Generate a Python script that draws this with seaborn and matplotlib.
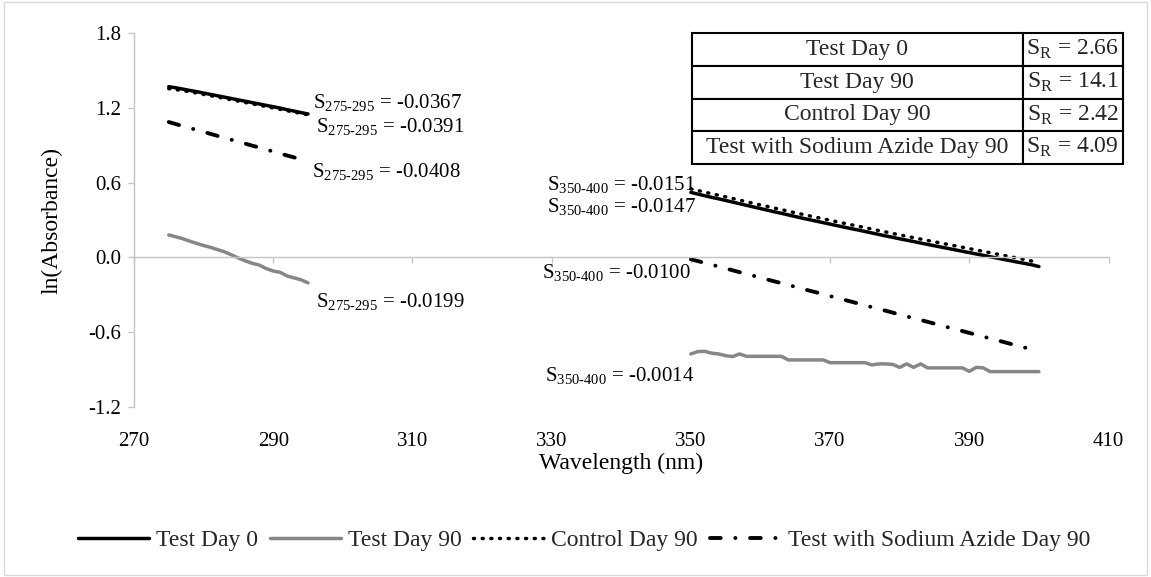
import matplotlib
matplotlib.use("Agg")
import matplotlib.pyplot as plt
from matplotlib.patches import Rectangle
import pandas as pd
import seaborn as sns

# wavelengths (nm) of the two fitted ranges
wl_uv = list(range(275, 296))
wl_vis = list(range(350, 401))

# ln(absorbance)
test_day0_uv = [1.371, 1.362, 1.352, 1.341, 1.331, 1.320, 1.309, 1.298, 1.287, 1.276,
                1.265, 1.254, 1.243, 1.232, 1.221, 1.210, 1.199, 1.186, 1.175, 1.163, 1.152]
test_day90_uv = [0.180, 0.165, 0.150, 0.130, 0.112, 0.095, 0.080, 0.062, 0.045, 0.020,
                 -0.005, -0.028, -0.048, -0.062, -0.090, -0.110, -0.120, -0.150, -0.165, -0.180, -0.205]
control_uv = [1.355, 1.348, 1.339, 1.330, 1.320, 1.309, 1.299, 1.288, 1.277, 1.266,
              1.255, 1.244, 1.233, 1.222, 1.211, 1.200, 1.189, 1.178, 1.167, 1.156, 1.145]
azide_uv = [1.087, 1.071, 1.055, 1.039, 1.024, 1.008, 0.992, 0.976, 0.960, 0.945,
            0.929, 0.913, 0.897, 0.882, 0.866, 0.850, 0.834, 0.818, 0.803, 0.787, 0.771]

test_day0_vis = [0.522, 0.508, 0.495, 0.482, 0.470, 0.457, 0.444, 0.431, 0.418, 0.405,
                 0.392, 0.379, 0.366, 0.354, 0.341, 0.328, 0.315, 0.303, 0.291, 0.279,
                 0.267, 0.255, 0.243, 0.231, 0.220, 0.208, 0.196, 0.184, 0.172, 0.161,
                 0.149, 0.138, 0.127, 0.115, 0.104, 0.093, 0.082, 0.071, 0.060, 0.049,
                 0.038, 0.027, 0.016, 0.005, -0.006, -0.017, -0.028, -0.039, -0.049, -0.060,
                 -0.074]
test_day90_vis = [-0.776, -0.757, -0.755, -0.770, -0.776, -0.790, -0.797, -0.776, -0.795, -0.795,
                  -0.795, -0.795, -0.795, -0.795, -0.824, -0.824, -0.824, -0.824, -0.824, -0.824,
                  -0.846, -0.846, -0.846, -0.846, -0.846, -0.846, -0.864, -0.856, -0.856, -0.860,
                  -0.884, -0.856, -0.884, -0.856, -0.888, -0.888, -0.888, -0.888, -0.888, -0.888,
                  -0.916, -0.884, -0.888, -0.918, -0.918, -0.918, -0.918, -0.918, -0.918, -0.918,
                  -0.918]
control_vis = [0.550, 0.537, 0.524, 0.511, 0.499, 0.486, 0.473, 0.460, 0.447, 0.434,
               0.421, 0.409, 0.396, 0.384, 0.371, 0.358, 0.346, 0.334, 0.322, 0.310,
               0.298, 0.286, 0.274, 0.262, 0.251, 0.239, 0.227, 0.215, 0.204, 0.192,
               0.181, 0.169, 0.158, 0.147, 0.136, 0.125, 0.114, 0.103, 0.092, 0.081,
               0.070, 0.059, 0.048, 0.037, 0.026, 0.015, 0.004, -0.007, -0.018, -0.030,
               -0.045]
azide_vis = [-0.015, -0.030, -0.045, -0.059, -0.074, -0.089, -0.104, -0.119, -0.133, -0.148,
             -0.163, -0.178, -0.193, -0.207, -0.222, -0.237, -0.252, -0.267, -0.281, -0.296,
             -0.311, -0.326, -0.341, -0.355, -0.370, -0.385, -0.400, -0.415, -0.429, -0.444,
             -0.459, -0.474, -0.489, -0.503, -0.518, -0.533, -0.548, -0.563, -0.577, -0.592,
             -0.607, -0.622, -0.637, -0.651, -0.666, -0.681, -0.696, -0.711, -0.725, -0.740,
             -0.755]

series_names = ["Test Day 0", "Test Day 90", "Control Day 90", "Test with Sodium Azide Day 90"]
sr_values = ["2.66", "14.1", "2.42", "4.09"]

# slope labels: (wavelength, ln abs, range, slope)
slope_labels = [
    (295.7, 1.235, "275-295", "-0.0367"),
    (296.1, 1.044, "275-295", "-0.0391"),
    (295.6, 0.683, "275-295", "-0.0408"),
    (296.1, -0.362, "275-295", "-0.0199"),
    (329.4, 0.576, "350-400", "-0.0151"),
    (329.4, 0.402, "350-400", "-0.0147"),
    (328.6, -0.131, "350-400", "-0.0100"),
    (329.1, -0.958, "350-400", "-0.0014"),
]

series_data = {
    "Test Day 0": [test_day0_uv, test_day0_vis],
    "Test Day 90": [test_day90_uv, test_day90_vis],
    "Control Day 90": [control_uv, control_vis],
    "Test with Sodium Azide Day 90": [azide_uv, azide_vis],
}

rows = []
for name, (uv, vis) in series_data.items():
    for w, v in zip(wl_uv, uv):
        rows.append((w, v, name, 0))
    for w, v in zip(wl_vis, vis):
        rows.append((w, v, name, 1))
df = pd.DataFrame(rows, columns=["wavelength", "ln_abs", "series", "segment"])

sns.set_theme(style="white")
plt.rcParams["font.family"] = ["Liberation Serif", "DejaVu Serif"]
plt.rcParams["mathtext.fontset"] = "custom"
plt.rcParams["mathtext.rm"] = "Liberation Serif"
plt.rcParams["axes.unicode_minus"] = False

palette = {"Test Day 0": "black", "Test Day 90": "#878787",
           "Control Day 90": "black", "Test with Sodium Azide Day 90": "black"}
dashes = {"Test Day 0": "", "Test Day 90": "",
          "Control Day 90": (0.3, 2.2), "Test with Sodium Azide Day 90": (2.75, 3.75, 0.05, 3.75)}
sizes = {"Test Day 0": 2.5, "Test Day 90": 2.5,
         "Control Day 90": 2.5, "Test with Sodium Azide Day 90": 2.8}

fig = plt.figure(figsize=(11.51, 5.77), dpi=100)
ax = fig.add_axes([0.1164, 0.2951, 0.8467, 0.6472])

sns.lineplot(data=df, x="wavelength", y="ln_abs", hue="series", style="series", size="series",
             units="segment", estimator=None, sort=False,
             palette=palette, dashes=dashes, sizes=sizes,
             hue_order=series_names, style_order=series_names, size_order=series_names, ax=ax)

ax.set_xlim(270, 410)
ax.set_ylim(-1.2, 1.8)
ax.set_xticks(range(270, 411, 20))
ax.set_yticks([-1.2, -0.6, 0.0, 0.6, 1.2, 1.8])
ax.set_yticklabels([f"{t:.1f}" for t in [-1.2, -0.6, 0.0, 0.6, 1.2, 1.8]])

sns.despine(ax=ax)
ax.spines["bottom"].set_position(("data", 0))
for s in ["left", "bottom"]:
    ax.spines[s].set_color("#c4c4c4")
    ax.spines[s].set_linewidth(1.0)
ax.tick_params(axis="both", direction="out", length=4.5, width=1.0, color="#c4c4c4",
               labelsize=15, labelcolor="black", bottom=True, left=True)
ax.tick_params(axis="x", pad=121)
ax.tick_params(axis="y", pad=5)

ax.set_xlabel("Wavelength (nm)", fontsize=17, color="black")
ax.set_ylabel("ln(Absorbance)", fontsize=17, color="black")
ax.xaxis.set_label_coords(0.5, -0.153)
ax.xaxis.label.set_va("center")
ax.yaxis.set_label_coords(-0.084, 0.5)
ax.yaxis.label.set_va("center")

for x, y, rng, val in slope_labels:
    ax.text(x, y, "S$_{\\mathrm{" + rng.replace("-", "\\text{-}") + "}}$ = " + val,
            fontsize=15, ha="left", va="center", color="black")

tbl = ax.table(cellText=[[n, "S$_{\\mathrm{R}}$ = " + v] for n, v in zip(series_names, sr_values)],
               colWidths=[0.768, 0.232], cellLoc="center",
               bbox=[0.5723, 0.650, 0.4423, 0.350])
tbl.auto_set_font_size(False)
tbl.set_fontsize(17)
for cell in tbl.get_celld().values():
    cell.set_edgecolor("black")
    cell.set_linewidth(1.5)
    cell.set_facecolor("white")

sns.move_legend(ax, "center", bbox_to_anchor=(584 / 1151, 1 - 540 / 577),
                bbox_transform=fig.transFigure, ncol=4, title=None, frameon=False,
                handlelength=3, handletextpad=0.3, columnspacing=0.5, fontsize=17)

# round dots / dash ends like the original
for line in list(ax.get_lines()) + list(ax.get_legend().get_lines()):
    line.set_dash_capstyle("round")

fig.add_artist(Rectangle((3.5 / 1151, 2 / 577), 1143 / 1151, 573 / 577,
                         transform=fig.transFigure, fill=False, edgecolor="#d9d9d9", lw=1))

fig.savefig("out.png", dpi=100)
